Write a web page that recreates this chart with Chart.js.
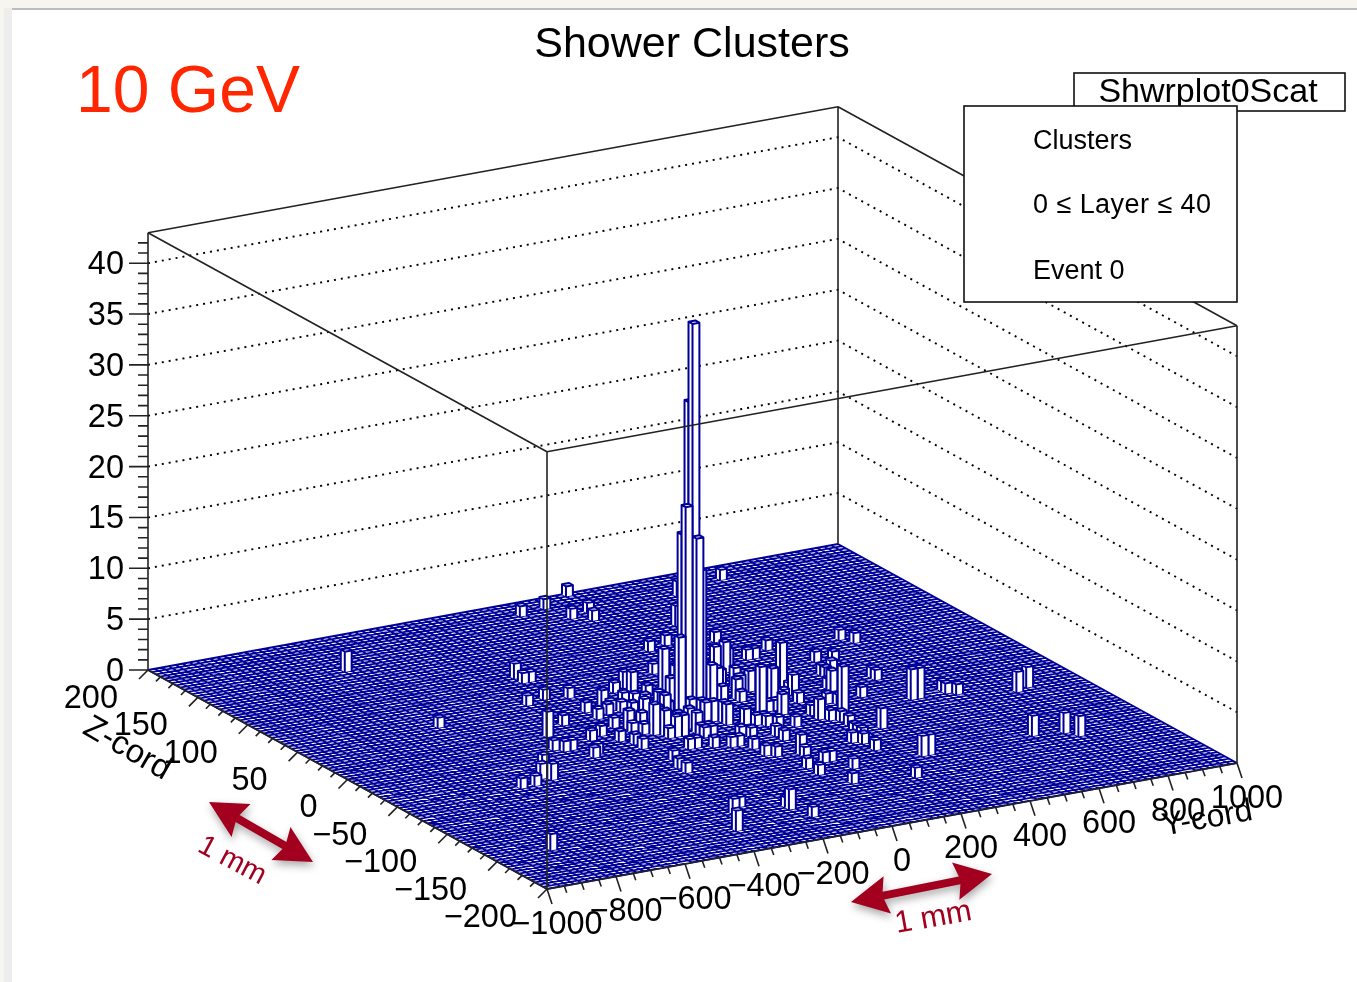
<!DOCTYPE html>
<html>
<head>
<meta charset="utf-8">
<title>Shower Clusters</title>
<script src="https://cdn.jsdelivr.net/npm/chart.js@4"></script>
<style>
  html, body { margin: 0; padding: 0; background: #f7f5f0; }
  #sheet { position: absolute; left: 4px; top: 8px; width: 1353px; height: 974px; background: #ededed; }
  #paper { position: absolute; left: 8px; top: 0; width: 1345px; height: 974px; background: #fff; border-top: 2px solid #bdbdbd; box-sizing: border-box; }
  canvas { position: absolute; left: 0; top: 0; }
</style>
</head>
<body>
<div id="sheet"><div id="paper"></div></div>
<canvas id="lego" width="1357" height="982"></canvas>
<script>
// lego bins: low edge of each filled bin and its height
const barY = [
  0, 0, -20, -20, 0, 20, -40, 20, 20, 100,
  200, 120, 180, 160, 160, -240, -240, -220, -320, -260,
  -200, -220, -320, -220, -160, -160, -80, -100, -80, -40,
  -40, 80, 220, 40, 40, 160, 20, 40, 0, 40,
  -140, -120, -60, -20, -20, -40, -200, -200, -140, -160,
  -140, -220, -280, -320, -260, -240, -180, -240, -140, -120,
  -100, -60, -60, -40, -140, -120, -380, -360, -220, -660,
  -620, -540, -580, -560, -400, -440, -420, -400, -840, -240,
  -240, -60, -40, -80, -40, -20, 20, 0, 0, 20,
  100, 100, 80, 80, 40, 100, 120, 40, 140, 80,
  -160, -160, -140, -300, -260, -360, 260, 240, 260, 360,
  620, 640, 340, 360, 420, 300, 160, 240, 100, 160,
  160, 120, 100, 340, 600, 440, 0, 20, 40, 100,
  120, 200, 200, 180, 280, 260, 260, 280, 300, 300,
  340, 400, 340, 360, 480, 440, 440, 400, 520, 480,
  540, 540, 440, 280, 280, 280, 40, 120, 240, 260,
  300, 300, 180, 280, 280, 540, 560, 640, 640, 660,
  800, 840, 660, 740, 760, 340, 360, 240, -580, -600,
  320, 180, 260, -20, 40, 80, 100, 220, -60,
  -80, -100, -120, -180, 60, 80, 140, 60, -80, -20, 60, -60, 200, 140
];
const barZ = [
  0, 4, 0, 4, -4, 0, 0, 4, 180, 184,
  196, 164, 168, 156, 100, 96, 88, 88, 56, 60,
  56, 32, 20, 20, 36, 28, 52, 36, 32, 56,
  48, 68, 104, 44, 32, 64, 20, 12, -12, -4,
  24, 20, 28, 40, 28, 12, -4, -8, 4, -16,
  -20, 4, -4, -8, -16, -24, -12, -32, -24, -24,
  -24, -24, -28, -28, -44, -44, -32, -28, -56, -56,
  -56, -36, -48, -52, 8, -12, -16, -16, -148, -68,
  -76, -32, -32, -48, -52, -52, -40, -60, -72, -76,
  -48, -56, -80, -84, -100, -96, -96, -112, -112, -132,
  -148, -152, -168, -144, -136, -168, -92, -76, -80, -64,
  68, 60, 64, 64, 72, 16, -12, 4, 8, 12,
  8, 20, 24, 96, 180, 168, -8, -12, -20, -28,
  -28, -12, -20, -40, -8, -36, -28, -40, -44, -52,
  -32, 0, -16, -20, 44, 24, 20, 4, 40, 28,
  8, 4, -16, -64, -68, -72, -44, -32, 52, 56,
  4, 8, -12, 28, 64, -32, -32, -28, -32, -36,
  -48, -44, -112, -116, -124, -112, -112, -140, 148, 48,
  128, 16, 0, -4, -16, -24, -20, 20, -16,
  8, 12, 8, 24, -8, 4, 24, 16, -12, 16, 36, 8, 28, -36
];
const barLayer = [
  38.6, 30.7, 20.7, 17.8, 17.7, 14.2, 8, 7, 1, 1,
  1, 1, 1, 1, 1, 1.5, 1, 1, 1, 1,
  1, 1, 1, 1, 1.6, 1, 1, 1, 1, 1.6,
  2, 1, 1, 4, 3, 1, 3, 3, 2, 5,
  1, 1, 1, 1, 1, 1, 2, 1, 1, 3,
  2.5, 1, 1, 1, 1, 1, 1, 1, 1, 2,
  2, 2, 1, 1, 1, 1, 1, 1, 1, 1,
  1, 1.5, 1.5, 1.6, 2.5, 1, 1, 1, 1.6, 1,
  1, 1, 1, 1, 1, 1, 1, 1, 1, 1,
  1, 1, 2, 1, 1, 1, 1, 1, 1, 1,
  1, 2, 1, 1.5, 1, 2, 1, 1, 1, 2,
  1, 1, 1, 1, 1, 4.5, 4.5, 3, 3.5, 2,
  1, 5, 3, 1, 1, 1.5, 2, 2, 2, 1,
  1, 1, 2, 1, 1, 2, 1, 1, 1, 1,
  4.5, 2, 1, 1, 1, 1, 1, 1, 1, 1,
  1, 1, 1, 1, 1, 1, 1, 1, 3, 2,
  2, 1, 1, 1, 1, 3, 3, 1, 1, 1,
  2, 2, 2, 2, 2, 2, 2, 1, 2, 1,
  2, 2, 1, 2, 2, 1.5, 1, 2, 2,
  1, 1.5, 2, 1, 3, 4, 2, 3, 1.5, 3, 2, 2, 2, 1
];

const yTicks = [-1000, -800, -600, -400, -200, 0, 200, 400, 600, 800, 1000];
const zTicks = [200, 150, 100, 50, 0, -50, -100, -150, -200];
const layerTicks = [0, 5, 10, 15, 20, 25, 30, 35, 40];
const infoLines = ["Clusters", "0 \u2264 Layer \u2264 40", "Event 0"];

const binY = 20;
const binZ = 4;
const yMin = -1000;
const yMax = 1000;
const zMin = -200;
const zMax = 200;
const layerMax = 43;

const navy = "rgb(0,0,153)";
const wine = "rgb(163,0,32)";
const font = '"Liberation Sans", Arial, sans-serif';

// ROOT style oblique view of the box, no perspective
const project = (y, z, layer) => ({
  x: 547 + (y - yMin) * 0.345 - (z - zMin) * 0.9975,
  y: 889 - (y - yMin) * 0.063 - (z - zMin) * 0.5475 - layer * 10.17,
});
const gap = { x: null, y: null };

const lineSet = (data, color, width, extra) => ({
  data: data,
  showLine: true,
  borderColor: color,
  borderWidth: width,
  fill: false,
  ...extra,
});

const floorShape = () =>
  [project(yMin, zMin, 0), project(yMax, zMin, 0), project(yMax, zMax, 0), project(yMin, zMax, 0)];

const floorGrid = () => {
  const pts = [];
  for (let y = yMin; y <= yMax; y += binY) {
    pts.push(project(y, zMin, 0), project(y, zMax, 0), gap);
  }
  for (let z = zMin; z <= zMax; z += binZ) {
    pts.push(project(yMin, z, 0), project(yMax, z, 0), gap);
  }
  return pts;
};

const wallGrid = () => {
  const pts = [];
  layerTicks.slice(1).forEach((l) => {
    pts.push(project(yMin, zMax, l), project(yMax, zMax, l), project(yMax, zMin, l), gap);
  });
  return pts;
};

const segment = (a, b) => [project(a[0], a[1], a[2]), project(b[0], b[1], b[2]), gap];

const backFrame = () => [
  ...segment([yMin, zMax, 0], [yMin, zMax, layerMax]),
  ...segment([yMin, zMax, layerMax], [yMax, zMax, layerMax]),
  ...segment([yMax, zMax, 0], [yMax, zMax, layerMax]),
  ...segment([yMax, zMax, layerMax], [yMax, zMin, layerMax]),
];

const frontFrame = () => [
  ...segment([yMin, zMax, layerMax], [yMin, zMin, layerMax]),
  ...segment([yMin, zMin, layerMax], [yMax, zMin, layerMax]),
  ...segment([yMin, zMin, 0], [yMin, zMin, layerMax]),
  ...segment([yMax, zMin, 0], [yMax, zMin, layerMax]),
  ...segment([yMin, zMin, 0], [yMax, zMin, 0]),
  ...segment([yMin, zMin, 0], [yMin, zMax, 0]),
];

// tick marks leave the axes in screen direction
const tickSeg = (p, dx, dy) => [p, { x: p.x + dx, y: p.y + dy }, gap];

const axisTicks = () => {
  const pts = [];
  for (let y = yMin; y <= yMax; y += 50) {
    const major = y % 200 === 0;
    pts.push(...tickSeg(project(y, zMin, 0), major ? 5 : 2.5, major ? 15 : 7));
  }
  for (let z = zMin; z <= zMax; z += 12.5) {
    const major = z % 50 === 0;
    pts.push(...tickSeg(project(yMin, z, 0), major ? -9 : -4.5, major ? 9 : 4.5));
  }
  for (let l = 0; l <= 42; l++) {
    pts.push(...tickSeg(project(yMin, zMax, l), l % 5 === 0 ? -19 : -10, 0));
  }
  return pts;
};

// white body of one bin
const barBody = (y, z, layer) => [
  project(y, z + binZ, 0),
  project(y, z, 0),
  project(y + binY, z, 0),
  project(y + binY, z, layer),
  project(y + binY, z + binZ, layer),
  project(y, z + binZ, layer),
];

// edges of one bin, the foot of the bar is left open
const barEdges = (y, z, layer) => {
  const bl = project(y, z + binZ, 0);
  const bf = project(y, z, 0);
  const br = project(y + binY, z, 0);
  const tl = project(y, z + binZ, layer);
  const tf = project(y, z, layer);
  const tr = project(y + binY, z, layer);
  const tb = project(y + binY, z + binZ, layer);
  return [bl, tl, tb, tr, br, tr, tf, bf, tf, tl];
};

const barSets = () => {
  const idx = barY.map((_, i) => i);
  // far bins first, so the near ones cover them
  idx.sort((a, b) => barY[b] - barY[a] || barZ[b] - barZ[a]);
  const sets = [];
  idx.forEach((i) => {
    sets.push(lineSet(barBody(barY[i], barZ[i], barLayer[i]), "#fff", 0, { fill: "shape", backgroundColor: "#fff" }));
    sets.push(lineSet(barEdges(barY[i], barZ[i], barLayer[i]), navy, 2, { borderJoinStyle: "round" }));
  });
  return sets;
};

// paint order, first one is at the bottom
const layers = [
  lineSet(floorShape(), navy, 0, { fill: "shape", backgroundColor: "#fff" }),
  lineSet(floorGrid(), navy, 1.8),
  lineSet(wallGrid(), "#000", 1.9, { borderDash: [2, 5] }),
  lineSet(backFrame(), "#222", 1.6),
  ...barSets(),
  lineSet(frontFrame(), "#222", 1.6),
  lineSet(axisTicks(), "#222", 1.6),
];

const drawText = (ctx, text, x, y, size, opts) => {
  const o = opts || {};
  ctx.save();
  ctx.translate(x, y);
  if (o.angle) ctx.rotate((o.angle * Math.PI) / 180);
  ctx.font = size + "px " + font;
  ctx.fillStyle = o.color || "#000";
  ctx.textAlign = o.align || "center";
  ctx.textBaseline = "middle";
  if (o.spacing) ctx.letterSpacing = o.spacing;
  ctx.fillText(text, 0, 2);
  ctx.restore();
};

const drawBox = (ctx, x, y, w, h) => {
  ctx.fillStyle = "#fff";
  ctx.strokeStyle = "#111";
  ctx.lineWidth = 1.6;
  ctx.fillRect(x, y, w, h);
  ctx.strokeRect(x, y, w, h);
};

const drawArrow = (ctx, x1, y1, x2, y2) => {
  const len = Math.hypot(x2 - x1, y2 - y1);
  ctx.save();
  ctx.translate(x1, y1);
  ctx.rotate(Math.atan2(y2 - y1, x2 - x1));
  ctx.shadowColor = "rgba(0,0,0,0.35)";
  ctx.shadowBlur = 9;
  ctx.shadowOffsetX = 1;
  ctx.shadowOffsetY = 4;
  ctx.fillStyle = wine;
  ctx.beginPath();
  ctx.moveTo(0, 0);
  ctx.lineTo(37, -19);
  ctx.lineTo(33, -4);
  ctx.lineTo(len - 33, -4);
  ctx.lineTo(len - 37, -19);
  ctx.lineTo(len, 0);
  ctx.lineTo(len - 37, 19);
  ctx.lineTo(len - 33, 4);
  ctx.lineTo(33, 4);
  ctx.lineTo(37, 19);
  ctx.closePath();
  ctx.fill();
  ctx.restore();
};

const legoText = {
  id: "legoText",
  afterDatasetsDraw(chart) {
    const ctx = chart.ctx;
    const sx = chart.scales.x;
    const sy = chart.scales.y;
    const px = (p) => ({ x: sx.getPixelForValue(p.x), y: sy.getPixelForValue(p.y) });

    layerTicks.forEach((l) => {
      const p = px(project(yMin, zMax, l));
      drawText(ctx, String(l), p.x - 24, p.y, 32.5, { align: "right" });
    });
    zTicks.forEach((z) => {
      const p = px(project(yMin, z, 0));
      drawText(ctx, String(z).replace("-", "\u2212"), p.x - 30, p.y + 27, 32.5, { align: "right" });
    });
    yTicks.forEach((y) => {
      const p = px(project(y, zMin, 0));
      drawText(ctx, String(y).replace("-", "\u2212"), p.x + 10, p.y + 34, 32.5);
    });

    drawText(ctx, "Z-cord", 128, 747, 33, { angle: 30 });
    drawText(ctx, "Y-cord", 1207, 817, 32, { angle: -10 });
    drawText(ctx, "Shower Clusters", 692, 43, 43);
    drawText(ctx, "10 GeV", 188, 92, 66, { color: "rgb(255,38,0)" });

    drawBox(ctx, 1074, 73, 271, 38);
    drawText(ctx, "Shwrplot0Scat", 1208, 91, 34);
    drawBox(ctx, 964, 106, 273, 196);
    [140, 204, 270].forEach((y, i) => {
      drawText(ctx, infoLines[i], 1033, y, 27, { align: "left", spacing: i === 1 ? "0.45px" : "" });
    });

    drawArrow(ctx, 209, 802, 313, 862);
    drawArrow(ctx, 851, 902, 992, 874);
    drawText(ctx, "1 mm", 233, 859, 29, { angle: 28, color: wine });
    drawText(ctx, "1 mm", 933, 916, 31, { angle: -10, color: wine });
  },
};

new Chart(document.getElementById("lego"), {
  type: "scatter",
  data: { datasets: layers.slice().reverse() },
  options: {
    responsive: false,
    devicePixelRatio: 1,
    animation: false,
    events: [],
    layout: { padding: 0 },
    elements: {
      point: { radius: 0 },
      line: { tension: 0 },
    },
    scales: {
      x: { type: "linear", min: 0, max: 1357, display: false },
      y: { type: "linear", min: 0, max: 982, reverse: true, display: false },
    },
    plugins: {
      legend: { display: false },
      tooltip: { enabled: false },
    },
  },
  plugins: [legoText],
});
</script>
</body>
</html>
